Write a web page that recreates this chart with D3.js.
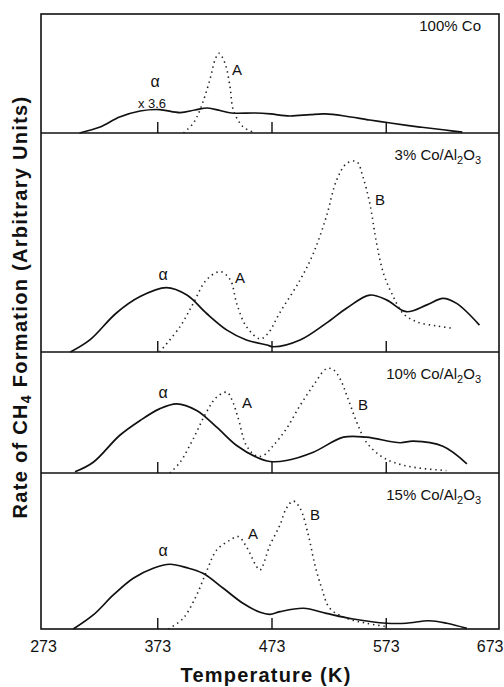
<!DOCTYPE html>
<html lang="en">
<head>
<meta charset="utf-8">
<title>CH4 formation TPSR</title>
<script src="https://d3js.org/d3.v7.min.js"></script>
<style>
  body { margin: 0; background: #fff; }
  svg text { font-family: "Liberation Sans", Arial, Helvetica, sans-serif; fill: #111; }
</style>
</head>
<body>
<svg width="504" height="687"></svg>
<script>
// temperature axis
var tempTicks = [273, 373, 473, 573, 673];
var innerTicks = [373, 473, 573];

// panel names (top to bottom)
var panelNames = ["100% Co", "3% Co/Al2O3", "10% Co/Al2O3", "15% Co/Al2O3"];

// [T (K), rate in % of panel height]
var co100_alpha = [[305,0],[323,5],[340,13.4],[358,18.5],[375,19.7],[393,17.2],[406,19.3],[417,21],
  [428,18.9],[438,16.8],[459,16.8],[472,16],[489,14.3],[507,15.5],[520,16],[537,14.3],[559,10.9],[577,8.4],
  [603,5],[625,2.5],[640,0.8]];
var co100_A = [[396,0],[404.5,8.2],[410.4,19.3],[419,44.5],[423.5,61.3],[427,67],[432.3,58.6],[436.7,38.9],
  [439.6,19.3],[448,5.3],[458.6,0]];

var co3_alpha = [[297,0],[314,5.5],[337,17.7],[358,25.3],[381,29.4],[399,26],[416,17.7],[434,10],[451,5.5],
  [469,3.2],[475,2.4],[498,5.5],[521,13.2],[539,20.1],[559,26],[574,23.7],[591,18.4],[609,21.5],[623,24.5],
  [635,22.2],[655,12.3]];
var co3_AB = [[375,0],[393,11.6],[404.5,22.2],[416,32.9],[428,36.7],[437,32.9],[442.5,22.2],[451,11.6],
  [463,6],[470,8.5],[480,17.7],[498,32.9],[509.6,45],[521,61.8],[530,78.5],[539,86.2],[547.6,86.9],
  [553,80],[559,67.9],[565,49.6],[571,35.9],[579.6,25.3],[588,17.7],[600,13.8],[617.6,11.9],[632,10.8]];

var co10_alpha = [[301,1],[317,8.9],[340,31],[358,43.4],[375,53],[390,57.2],[407.5,51.7],[425,37.9],[442.5,22.7],
  [460,13],[471.7,9.5],[486,10.3],[509.6,17.2],[536,29.6],[556,29.6],[585.5,25],[597,26.3],[623,22.1],[644,7.6]];
var co10_AB = [[384,0],[393,8.9],[404.5,28.3],[416,50.2],[425,62.7],[433.8,66.8],[438,61.3],[444,44.8],[451,22.7],
  [460,14],[466,14.5],[474.6,22.7],[486,36.5],[498,55.8],[509.6,72.3],[521,86.1],[527,85.5],[533,77.9],
  [540,61.3],[547.6,42],[556,25.5],[568,14.5],[579.6,8.9],[597,4.8],[626,2]];

var co15_alpha = [[299.5,0],[317,9],[334.6,21.8],[352,32.5],[369.5,38.9],[384,41.5],[398.8,39.3],[413,35.7],
  [430.8,26.1],[448,16.5],[463,10.7],[471.7,9.4],[480.4,11.1],[501,13.3],[521,10],[544.6,6.4],[573.8,3.7],
  [591,3.7],[611,5.3],[626.4,3.7],[644,0.4]];
var co15_AB = [[382.7,0],[395.8,6.9],[407.5,21.8],[416,36.7],[425,50.6],[436.7,57],[444,59.2],[451,52.8],
  [460,40],[463,37.8],[471.7,53.8],[480.4,66.7],[486,77.4],[492,82],[498,77.4],[505.2,60.3],[511,41],
  [517,26.1],[524,13.3],[538.8,6.9],[556,3.7],[573.8,1.5]];

var solidSeries = [co100_alpha, co3_alpha, co10_alpha, co15_alpha];
var dottedSeries = [co100_A, co3_AB, co10_AB, co15_AB];

var svg = d3.select("svg");
var left = 41, right = 499;
var panelTops = [14, 133, 352, 473],
    panelBottoms = [133, 352, 473, 629];

var x = d3.scaleLinear().domain([273, 673]).range([43, 500]);

// outer frame + dividers
svg.append("rect")
  .attr("x", left).attr("y", panelTops[0])
  .attr("width", right - left).attr("height", panelBottoms[3] - panelTops[0])
  .attr("fill", "none").attr("stroke", "#111").attr("stroke-width", 1.6);

panelNames.forEach(function(name, i) {
  var y = d3.scaleLinear().domain([0, 100]).range([panelBottoms[i], panelTops[i]]);
  var g = svg.append("g");

  if (i < 3) {
    g.append("line")
      .attr("x1", left).attr("x2", right)
      .attr("y1", panelBottoms[i]).attr("y2", panelBottoms[i])
      .attr("stroke", "#111").attr("stroke-width", 1.6);
  }

  // inner ticks
  var t = g.append("g")
    .attr("transform", "translate(0," + panelBottoms[i] + ")")
    .call(d3.axisTop(x).tickValues(innerTicks).tickSize(11).tickFormat(""));
  t.select(".domain").remove();
  t.selectAll("line").attr("stroke", "#111").attr("stroke-width", 1.4);

  var line = d3.line()
    .x(function(d) { return x(d[0]); })
    .y(function(d) { return y(d[1]); })
    .curve(d3.curveCatmullRom.alpha(0.5));

  g.append("path")
    .datum(solidSeries[i])
    .attr("d", line)
    .attr("fill", "none").attr("stroke", "#111").attr("stroke-width", 1.7);

  g.append("path")
    .datum(dottedSeries[i])
    .attr("d", line)
    .attr("fill", "none").attr("stroke", "#222").attr("stroke-width", 1.6)
    .attr("stroke-dasharray", "1.4 3.8");

  // panel label with subscripts
  var lab = g.append("text")
    .attr("x", 481).attr("y", panelTops[i] + (i == 0 ? 17 : 27))
    .attr("text-anchor", "end")
    .style("font-size", "15px");
  if (i == 0) lab.text(name);
  else {
    lab.append("tspan").text(name.split("Co/")[0] + "Co/Al");
    lab.append("tspan").attr("dy", 4).style("font-size", "11px").text("2");
    lab.append("tspan").attr("dy", -4).text("O");
    lab.append("tspan").attr("dy", 4).style("font-size", "11px").text("3");
  }
});

// peak labels
var peakLabels = [
  {t: "α", x: 155, y: 87, s: 16}, {t: "x 3.6", x: 152, y: 108, s: 13}, {t: "A", x: 237, y: 75, s: 15},
  {t: "α", x: 163, y: 280, s: 16}, {t: "A", x: 240, y: 283, s: 15}, {t: "B", x: 380, y: 205, s: 15},
  {t: "α", x: 163, y: 398, s: 16}, {t: "A", x: 247, y: 408, s: 15}, {t: "B", x: 363, y: 410, s: 15},
  {t: "α", x: 163, y: 556, s: 16}, {t: "A", x: 253, y: 539, s: 15}, {t: "B", x: 315, y: 520, s: 15}
];
svg.selectAll(".peak").data(peakLabels).enter().append("text")
  .attr("class", "peak")
  .attr("x", function(d) { return d.x; })
  .attr("y", function(d) { return d.y; })
  .attr("text-anchor", "middle")
  .style("font-size", function(d) { return d.s + "px"; })
  .text(function(d) { return d.t; });

// bottom axis labels
var xa = svg.append("g")
  .attr("transform", "translate(0," + panelBottoms[3] + ")")
  .call(d3.axisBottom(x).tickValues(tempTicks).tickSize(0).tickPadding(12));
xa.select(".domain").remove();
xa.selectAll("text")
  .style("font-size", "16px")
  .style("font-family", "Liberation Sans, Arial, sans-serif")
  .attr("fill", "#000");
xa.selectAll("text").filter(function(d) { return d == 673; })
  .attr("text-anchor", "end").attr("dx", 3);

svg.append("text")
  .attr("x", 266).attr("y", 682)
  .attr("text-anchor", "middle")
  .style("font-size", "20px").style("font-weight", "bold").style("letter-spacing", "1.2px")
  .text("Temperature  (K)");

var yt = svg.append("text")
  .attr("transform", "translate(27,307) rotate(-90)")
  .attr("text-anchor", "middle")
  .style("font-size", "20px").style("font-weight", "bold").style("letter-spacing", "1.3px");
yt.append("tspan").text("Rate  of  CH");
yt.append("tspan").attr("dy", 4).style("font-size", "14px").text("4");
yt.append("tspan").attr("dy", -4).text(" Formation  (Arbitrary  Units)");
</script>
</body>
</html>
